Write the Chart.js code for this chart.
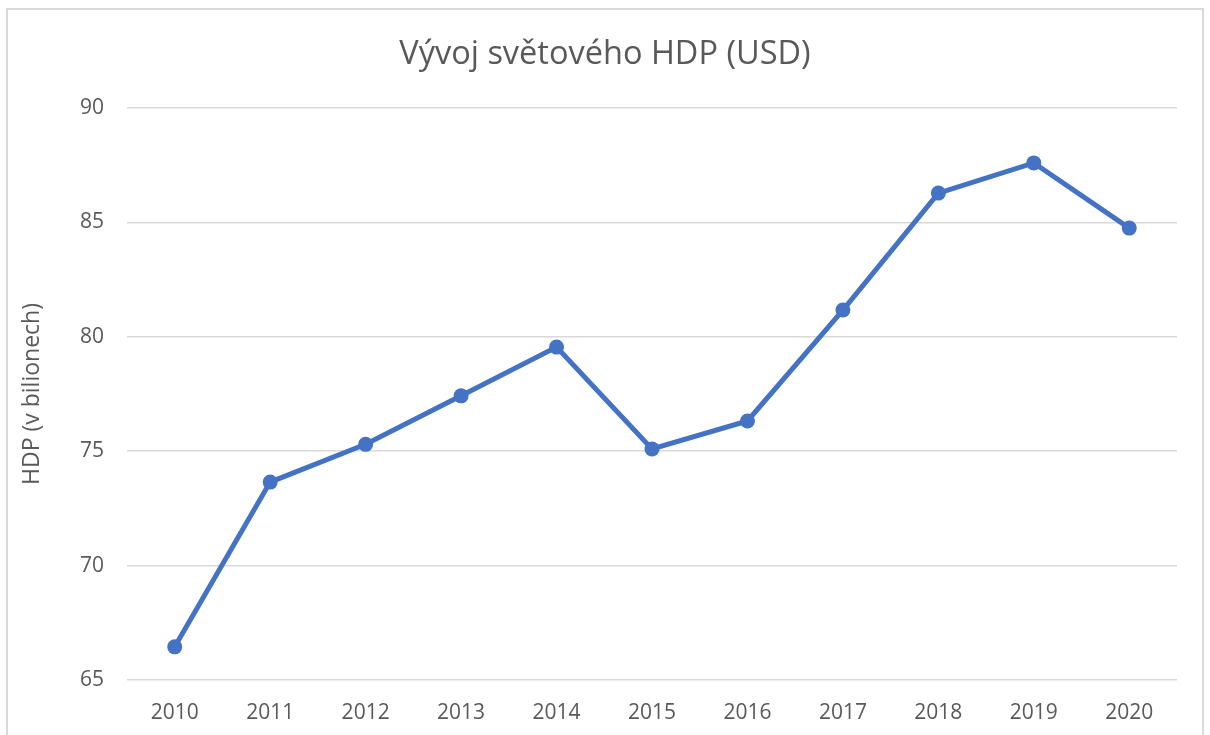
<!DOCTYPE html>
<html>
<head>
<meta charset="utf-8">
<script src="https://cdn.jsdelivr.net/npm/chart.js@4"></script>
<style>
  html, body { margin: 0; padding: 0; background: #fff; }
  body { width: 1210px; height: 735px; overflow: hidden; position: relative; }
  #frame { position: absolute; left: 6px; top: 8px; width: 1198px; height: 800px; border: 2px solid #d9d9d9; box-sizing: border-box; }
  #wrap { position: absolute; left: 0; top: 0; width: 1210px; height: 735px; }
</style>
</head>
<body>
<div id="frame"></div>
<div id="wrap"><canvas id="c" width="1210" height="735"></canvas></div>
<script>
const categories = ["2010","2011","2012","2013","2014","2015","2016","2017","2018","2019","2020"];
const gdpValues = [66.45, 73.65, 75.3, 77.42, 79.55, 75.1, 76.32, 81.17, 86.28, 87.6, 84.75];
const yTicks = [65, 70, 75, 80, 85, 90];
const chartTitle = "Vývoj světového HDP (USD)";
const yAxisTitle = "HDP (v bilionech)";

const FONT = "'Open Sans', 'Noto Sans', sans-serif";
const GREY = '#595959';

new Chart(document.getElementById('c'), {
  type: 'line',
  data: {
    labels: categories,
    datasets: [{
      data: gdpValues,
      borderColor: '#4472C4',
      backgroundColor: '#4472C4',
      borderWidth: 5,
      pointRadius: 7.5,
      pointHoverRadius: 7.5,
      pointBorderWidth: 0,
      tension: 0,
      fill: false
    }]
  },
  options: {
    responsive: false,
    animation: false,
    devicePixelRatio: 1,
    layout: { padding: { left: 33, right: 33, top: 0, bottom: 0 } },
    plugins: {
      legend: { display: false },
      tooltip: { enabled: false },
      title: {
        display: true,
        text: chartTitle,
        color: GREY,
        font: { family: FONT, size: 32.5, weight: 'normal', lineHeight: 1.2 },
        padding: { top: 35, bottom: 34 }
      }
    },
    scales: {
      x: {
        type: 'category',
        offset: true,
        grid: { display: false, drawTicks: false },
        border: { display: false },
        ticks: { color: GREY, font: { family: FONT, size: 21 }, padding: 20, maxRotation: 0 },
        afterFit: (s) => { s.height = 55; }
      },
      y: {
        min: 65,
        max: 90,
        afterBuildTicks: (s) => { s.ticks = yTicks.map(v => ({ value: v })); },
        grid: { color: '#d9d9d9', lineWidth: 1.5, drawTicks: false },
        border: { display: false },
        ticks: { color: GREY, font: { family: FONT, size: 21 }, padding: 23 },
        title: {
          display: true,
          text: yAxisTitle,
          color: GREY,
          font: { family: FONT, size: 23, weight: 'normal' },
          padding: { top: -14, bottom: 0 }
        },
        afterFit: (s) => { s.width = 94; }
      }
    }
  }
});
</script>
</body>
</html>
